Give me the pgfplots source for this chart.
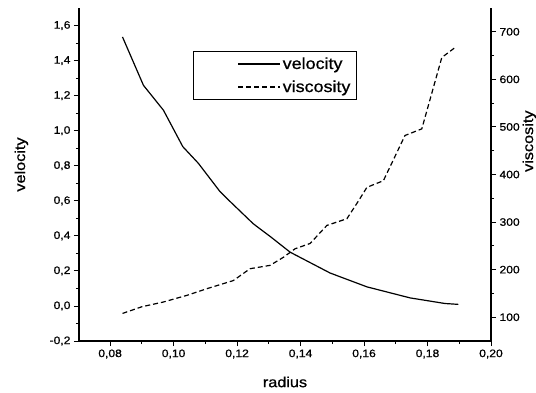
\documentclass[border=0pt]{standalone}
\usepackage{fontspec}
\setmainfont{Liberation Sans}[FakeStretch=1.12, FakeBold=0.8]
\usepackage{pgfplots}
\pgfplotsset{compat=1.18}
\begin{document}
\begin{tikzpicture}
\path[use as bounding box] (0,0) rectangle (536pt,-392pt);
\pgfplotsset{
  common/.style={
    scale only axis, width=412pt, height=333pt,
    at={(79pt,-341pt)}, anchor=south west,
    xmin=0.0702, xmax=0.20,
    axis line style={line width=1.1pt},
    tick align=outside,
    major tick length=5pt, minor tick length=3pt,
    every tick/.style={black, line width=0.9pt},
    tick label style={font=\fontsize{10.8}{12}\selectfont},
    label style={font=\fontsize{14.5}{16}\selectfont},
    /pgf/number format/assume math mode=true,
  }
}
\begin{axis}[common,
  axis x line*=bottom, axis y line*=left,
  ymin=-0.2, ymax=1.7,
  xtick={0.08,0.10,...,0.201}, minor x tick num=1,
  ytick={-0.2,0,...,1.61}, minor y tick num=1,
  xticklabel style={/pgf/number format/.cd, use comma, fixed, fixed zerofill, precision=2},
  yticklabel style={/pgf/number format/.cd, use comma, fixed, fixed zerofill, precision=1},
  xlabel={radius}, ylabel={velocity},
  xlabel style={at={(0.5,-0.123)}, anchor=center},
  ylabel style={at={(-0.140,0.53)}, anchor=center},
]
\addplot[black, line width=1.2pt] coordinates {
(0.0839,1.535) (0.0905,1.259) (0.0968,1.117) (0.1029,0.909) (0.1078,0.814)
(0.1146,0.653) (0.1178,0.596) (0.1251,0.469) (0.1304,0.397) (0.1367,0.307)
(0.1493,0.188) (0.1609,0.109) (0.1745,0.046) (0.1855,0.014) (0.1897,0.009)
};
\end{axis}
\begin{axis}[common,
  axis x line=none, axis y line*=right,
  ymin=50, ymax=750,
  ytick={100,200,...,700}, minor y tick num=1,
  ylabel={viscosity},
  ylabel style={at={(1.093,0.6)}, anchor=center},
  legend style={at={(0.277,0.871)}, anchor=north west, draw=black, line width=0.8pt,
    font=\fontsize{16}{18}\selectfont, inner xsep=4pt, inner ysep=4pt, row sep=6pt,
    legend cell align=left},
  legend image code/.code={\path (-40pt,0pt); \draw[#1] (0pt,0pt) -- (42pt,0pt);},
]
\addlegendimage{black, line width=1.2pt}
\addlegendentry{velocity}
\addplot[black, line width=1.2pt, dash pattern=on 5pt off 3pt] coordinates {
(0.0839,108) (0.0900,122) (0.0968,132) (0.1005,139) (0.1042,146) (0.1105,160)
(0.1188,177) (0.1241,202) (0.1304,209) (0.1346,226) (0.1383,244) (0.1430,255)
(0.1483,293) (0.1546,307) (0.1583,345) (0.1609,373) (0.1661,387) (0.1729,482)
(0.1782,496) (0.1845,646) (0.1887,667)
};
\addlegendentry{viscosity}
\end{axis}
\end{tikzpicture}
\end{document}
